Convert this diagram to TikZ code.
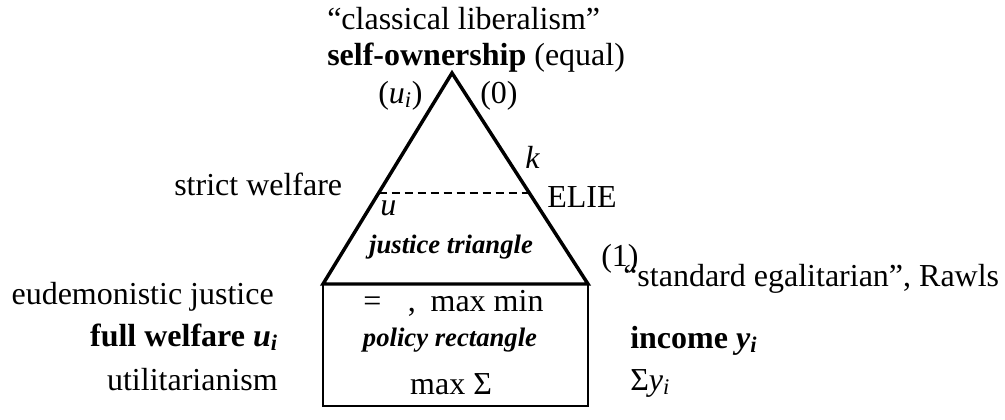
\documentclass[tikz,border=0pt]{standalone}
\usepackage{fontspec}
\setmainfont{Liberation Serif}
\usetikzlibrary{calc}
\tikzset{
  lbl/.style={inner sep=0pt, font=\fontsize{24pt}{28pt}\selectfont},
  inlbl/.style={inner sep=0pt, font=\fontsize{20pt}{24pt}\selectfont\bfseries\itshape},
  triline/.style={line width=2.6pt},
  rectline/.style={line width=1.5pt},
  dashline/.style={line width=1pt, dash pattern=on 6pt off 3.75pt}
}
\newcommand{\sbi}[1]{\textsubscript{\textit{#1}}}
\begin{document}
\begin{tikzpicture}[x=0.75pt,y=-0.75pt]
\useasboundingbox (0,0) rectangle (1005,419);
% shapes
\coordinate (apex) at (452,73);
\coordinate (bl) at (323,284);
\coordinate (br) at (588,284);
\coordinate (rbl) at (323,406);
\coordinate (rbr) at (588,406);
\draw[rectline] (bl) -- (rbl) -- (rbr) -- (br);
\draw[triline] (bl) -- (apex) -- (br) -- cycle;
\coordinate (dl) at ($(apex)!0.569!(bl)$);
\coordinate (dr) at ($(apex)!0.569!(br)$);
\draw[dashline] (dl) -- (dr);
% top labels
\node[lbl, anchor=base west] (cl) at (327,29) {“classical liberalism”};
\node[lbl, anchor=base west] (so) at (327,65) {\textbf{self-ownership} (equal)};
\node[lbl, anchor=base west] (ui) at (378,103) {(\textit{u}\sbi{i})};
\node[lbl, anchor=base west] (zero) at (480,103) {(0)};
\node[lbl, anchor=base west] (k) at (525,168) {\textit{k}};
\node[lbl, anchor=base west] (sw) at (174,195) {strict welfare};
\node[lbl, anchor=base west] (elie) at (547,207) {ELIE};
\node[lbl, anchor=base west] (u) at (380,215) {\textit{u}};
\node[inlbl, anchor=base] (jt) at (451,253) {justice triangle};
\node[lbl, anchor=base west] (one) at (601,266) {(1)};
\node[lbl, anchor=base west] (se) at (623,286) {“standard egalitarian”, Rawls};
% left labels
\node[lbl, anchor=base east] (ej) at (274,304) {eudemonistic justice};
\node[lbl, anchor=base east] (fw) at (278,346) {\textbf{full welfare \textit{u}}\sbi{\textbf{i}}};
\node[lbl, anchor=base east] (ut) at (278,390) {utilitarianism};
% rectangle contents
\node[lbl, anchor=base west] (mm) at (363,311) {=\hspace{20pt},\hspace{11pt}max min};
\node[inlbl, anchor=base] (pr) at (450,346) {policy rectangle};
\node[lbl, anchor=base] (ms) at (451,394) {max Σ};
% right labels
\node[lbl, anchor=base west] (inc) at (630,348) {\textbf{income \textit{y}}\sbi{\textbf{i}}};
\node[lbl, anchor=base west] (sy) at (630,390) {Σ\textit{y}\sbi{i}};
\end{tikzpicture}
\end{document}
